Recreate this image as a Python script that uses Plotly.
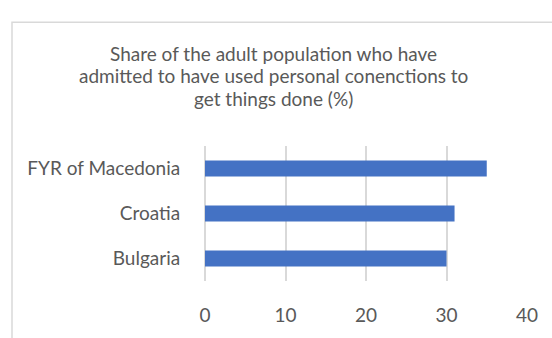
import plotly.graph_objects as go

# Data
countries = ["Bulgaria", "Croatia", "FYR of Macedonia"]
shares = [30, 31, 35]
x_ticks = [0, 10, 20, 30, 40]
title_lines = [
    "Share of the adult population who have",
    "admitted to have used personal conenctions to",
    "get things done (%)",
]

W, H = 552, 338
ML, MR, MT, MB = 205, 25, 146, 48

text_color = "#595959"
grid_color = "#D9D9D9"
font_family = "Lato, 'Open Sans', sans-serif"
FS = 19

fig = go.Figure(
    go.Bar(
        x=shares,
        y=countries,
        orientation="h",
        marker=dict(color="#4472C4", line=dict(width=0)),
        hoverinfo="x+y",
    )
)

plot_w = W - ML - MR
plot_h = H - MT - MB


def px_x(p):
    return (p - ML) / plot_w


def px_y(p):
    return (H - MB - p) / plot_h


# Title drawn line by line for tight line spacing
title_annotations = [
    dict(
        text=line,
        xref="paper",
        yref="paper",
        x=px_x(273),
        y=px_y(47 + 24 * i),
        xanchor="center",
        yanchor="middle",
        showarrow=False,
        font=dict(size=FS, color=text_color, family=font_family),
    )
    for i, line in enumerate(title_lines)
]

fig.update_layout(
    width=W,
    height=H,
    margin=dict(l=ML, r=MR, t=MT, b=MB, pad=0),
    paper_bgcolor="white",
    plot_bgcolor="white",
    bargap=0.64,
    showlegend=False,
    font=dict(family=font_family, color=text_color, size=FS),
    annotations=title_annotations,
    xaxis=dict(
        range=[0, 40],
        tickvals=x_ticks,
        showgrid=True,
        gridcolor=grid_color,
        gridwidth=1.5,
        zeroline=True,
        zerolinecolor=grid_color,
        zerolinewidth=1.5,
        showline=False,
        ticks="outside",
        ticklen=17,
        tickcolor="rgba(0,0,0,0)",
        tickfont=dict(size=FS, color=text_color),
        fixedrange=True,
    ),
    yaxis=dict(
        showgrid=False,
        zeroline=False,
        showline=False,
        ticks="outside",
        ticklen=20,
        tickcolor="rgba(0,0,0,0)",
        tickfont=dict(size=FS, color=text_color),
        fixedrange=True,
    ),
    shapes=[
        dict(
            type="rect",
            xref="paper",
            yref="paper",
            x0=px_x(12),
            x1=px_x(W + 20),
            y0=px_y(14),
            y1=px_y(H + 20),
            line=dict(color=grid_color, width=1.5),
            fillcolor="rgba(0,0,0,0)",
            layer="below",
        )
    ],
)

fig.write_html("out.html")
